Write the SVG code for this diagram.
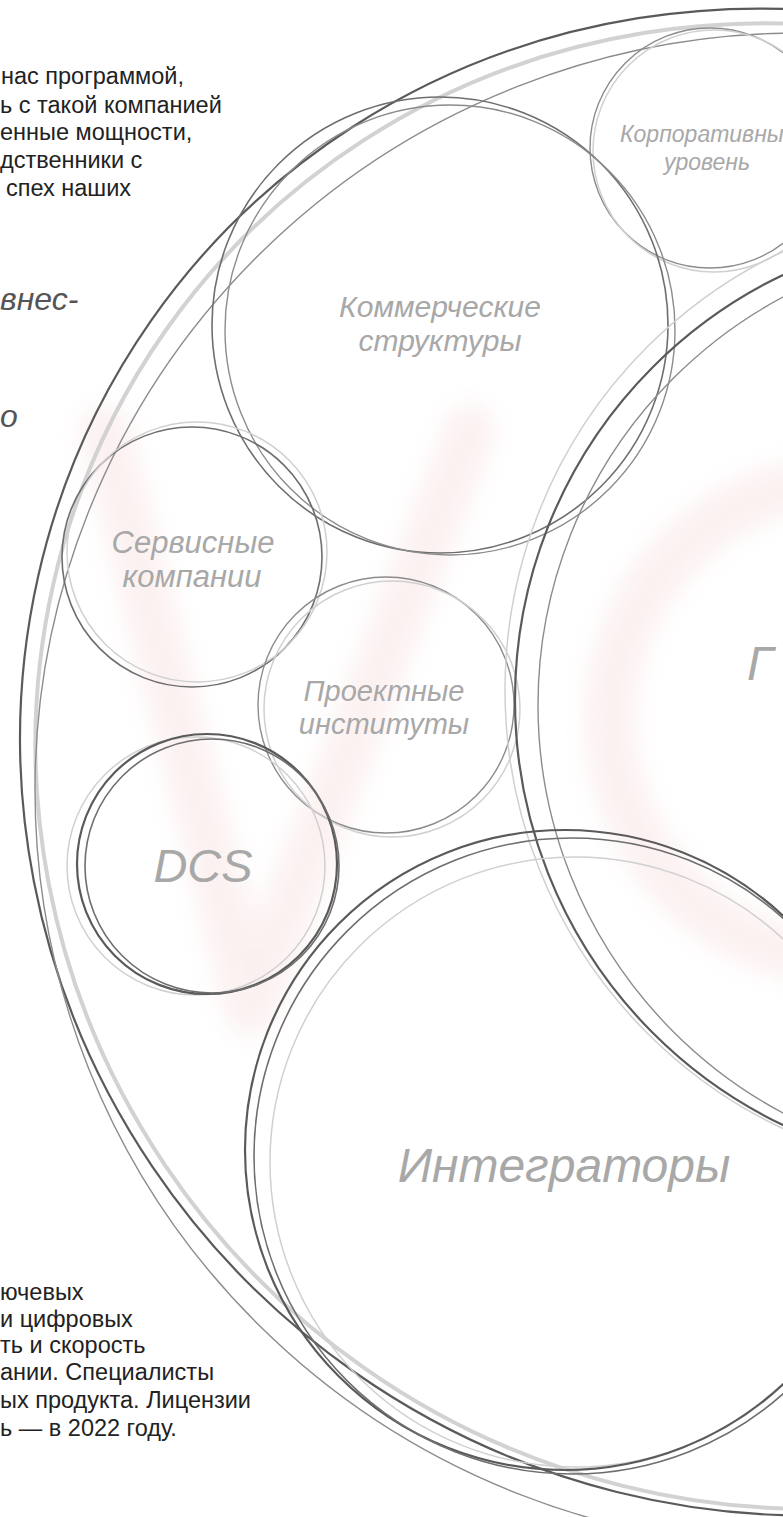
<svg xmlns="http://www.w3.org/2000/svg" width="783" height="1517" viewBox="0 0 783 1517">
<defs>
  <filter id="soft" x="-30%" y="-30%" width="160%" height="160%"><feGaussianBlur stdDeviation="12"/></filter>
</defs>
<style>
  .body{font-family:"Liberation Sans",Arial,sans-serif;font-size:23.5px;fill:#222}
  .quote{font-family:"Liberation Sans",Arial,sans-serif;font-size:32px;font-style:italic;fill:#555}
  .lbl{font-family:"Liberation Sans",Arial,sans-serif;font-style:italic;fill:#a8a8a8;text-anchor:middle}
  .dk{fill:none;stroke:#5a5a5a;stroke-width:2.2}
  .dk2{fill:none;stroke:#6e6e6e;stroke-width:1.6}
  .md{fill:none;stroke:#8c8c8c;stroke-width:1.4}
  .lt{fill:none;stroke:#d0d0d0;stroke-width:1.5}
  .band{fill:none;stroke:#d2d2d2;stroke-width:4}
</style>
<rect width="783" height="1517" fill="#ffffff"/>

<g id="watermark" filter="url(#soft)" fill="none" stroke="#f7dcdc" opacity="0.4" stroke-width="50" stroke-linecap="round" stroke-linejoin="round">
  <path d="M105 430 L250 1010 L470 430"/>
  <circle cx="850" cy="720" r="240"/>
</g>

<g id="text-top">
  <text class="body" x="1" y="84">нас программой,</text>
  <text class="body" x="0" y="113">ь с такой компанией</text>
  <text class="body" x="0" y="140">енные мощности,</text>
  <text class="body" x="0" y="168">дственники с</text>
  <text class="body" x="6" y="196">спех наших</text>
</g>

<g id="text-quote">
  <text class="quote" x="0" y="310">внес-</text>
  <text class="quote" x="0" y="427">о</text>
</g>

<g id="text-bottom">
  <text class="body" x="0" y="1300">ючевых</text>
  <text class="body" x="0" y="1327">и цифровых</text>
  <text class="body" x="0" y="1353">ть и скорость</text>
  <text class="body" x="0" y="1380">ании. Специалисты</text>
  <text class="body" x="0" y="1408">ых продукта. Лицензии</text>
  <text class="body" x="0" y="1436">ь — в 2022 году.</text>
</g>

<g id="node-outer">
  <ellipse class="dk" cx="782" cy="762" rx="770" ry="745" transform="rotate(35 782 762)"/>
  <ellipse class="band" cx="786" cy="766" rx="758" ry="735" transform="rotate(35 786 766)"/>
  <ellipse class="md" cx="800" cy="790" rx="765" ry="757"/>
</g>

<g id="node-korporativny">
  <circle class="md" cx="710" cy="148" r="120"/>
  <circle class="lt" cx="714" cy="151" r="121"/>
  <text class="lbl" x="620" y="142" font-size="23" style="text-anchor:start">Корпоративны</text>
  <text class="lbl" x="707" y="170" font-size="23">уровень</text>
</g>

<g id="node-kommercheskie">
  <circle class="dk2" cx="440" cy="325" r="228"/>
  <circle class="md" cx="450" cy="330" r="225"/>
  <text class="lbl" x="440" y="317" font-size="30">Коммерческие</text>
  <text class="lbl" x="440" y="351" font-size="30">структуры</text>
</g>

<g id="node-servisnye">
  <circle class="dk2" cx="192" cy="557" r="130"/>
  <circle class="lt" cx="197" cy="552" r="130"/>
  <text class="lbl" x="193" y="553" font-size="31">Сервисные</text>
  <text class="lbl" x="192" y="587" font-size="31">компании</text>
</g>

<g id="node-proektnye">
  <circle class="md" cx="386" cy="705" r="128"/>
  <circle class="lt" cx="392" cy="709" r="128"/>
  <text class="lbl" x="384" y="701" font-size="29">Проектные</text>
  <text class="lbl" x="384" y="734" font-size="29">институты</text>
</g>

<g id="node-dcs">
  <circle class="lt" cx="196" cy="866" r="129"/>
  <circle class="dk" cx="207" cy="864" r="130"/>
  <circle class="dk2" cx="212" cy="866" r="127"/>
  <text class="lbl" x="203" y="882" font-size="47">DCS</text>
</g>

<g id="node-big">
  <circle class="lt" cx="990" cy="690" r="485"/>
  <circle class="dk" cx="986" cy="700" r="471"/>
  <circle class="md" cx="1000" cy="705" r="462"/>
  <text class="lbl" x="747" y="680" font-size="48" style="text-anchor:start">Г</text>
</g>

<g id="node-integratory">
  <circle class="lt" cx="575" cy="1162" r="305"/>
  <circle class="dk" cx="565" cy="1150" r="320"/>
  <circle class="dk2" cx="572" cy="1156" r="318"/>
  <text class="lbl" x="564" y="1182" font-size="48">Интеграторы</text>
</g>

<g id="connectors"></g>
</svg>
